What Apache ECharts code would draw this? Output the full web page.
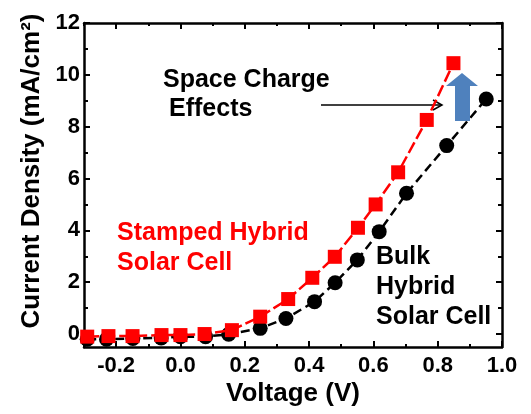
<!DOCTYPE html>
<html>
<head>
<meta charset="utf-8">
<script src="https://cdn.jsdelivr.net/npm/echarts@6/dist/echarts.min.js"></script>
<style>html,body{margin:0;padding:0;background:#fff}#c{width:531px;height:414px}</style>
</head>
<body>
<div id="c"></div>
<script>
// Data
var voltageStamped = [-0.29, -0.224, -0.149, -0.059, 0.0, 0.075, 0.16, 0.248, 0.335, 0.41, 0.48, 0.552, 0.607, 0.677, 0.766, 0.849];
var currentStamped = [-0.1, -0.08, -0.08, -0.04, -0.04, 0.0, 0.15, 0.67, 1.35, 2.17, 2.98, 4.1, 5.0, 6.24, 8.26, 10.45];
var voltageBulk = [-0.29, -0.23, -0.148, -0.06, 0.0, 0.078, 0.15, 0.248, 0.328, 0.417, 0.481, 0.55, 0.618, 0.703, 0.828, 0.951];
var currentBulk = [-0.2, -0.2, -0.17, -0.15, -0.1, -0.1, -0.01, 0.22, 0.6, 1.25, 1.98, 2.86, 3.95, 5.43, 7.27, 9.07];
var xTickLabels = [-0.2, 0.0, 0.2, 0.4, 0.6, 0.8, 1.0];
var xMinorTicks = [-0.3, -0.1, 0.1, 0.3, 0.5, 0.7, 0.9];
var yTickLabels = [0, 2, 4, 6, 8, 10, 12];
var yMinorTicks = [1, 3, 5, 7, 9, 11];

function zip(a, b) { return a.map(function (v, i) { return [v, b[i]]; }); }

var FONT = 'Liberation Sans';
var chart = echarts.init(document.getElementById('c'), null, { renderer: 'canvas' });

function xAx(pos, ticks, len, showLine, showLabel) {
  return {
    type: 'value', position: pos, min: -0.3, max: 1.0,
    axisLine: { show: showLine, onZero: false, lineStyle: { color: '#000', width: 2.5 } },
    axisTick: { show: true, inside: true, length: len, customValues: ticks, lineStyle: { color: '#000', width: 2 } },
    axisLabel: showLabel ? {
      show: true, customValues: xTickLabels, margin: 8,
      formatter: function (v) { return v.toFixed(1); },
      fontFamily: FONT, fontWeight: 'bold', fontSize: 22, color: '#000'
    } : { show: false },
    splitLine: { show: false }
  };
}
function yAx(pos, ticks, len, showLine, showLabel) {
  return {
    type: 'value', position: pos, min: -0.5, max: 12,
    axisLine: { show: showLine, onZero: false, lineStyle: { color: '#000', width: 2.5 } },
    axisTick: { show: true, inside: true, length: len, customValues: ticks, lineStyle: { color: '#000', width: 2 } },
    axisLabel: showLabel ? {
      show: true, customValues: yTickLabels, margin: 4,
      fontFamily: FONT, fontWeight: 'bold', fontSize: 22, color: '#000'
    } : { show: false },
    splitLine: { show: false }
  };
}

function txt(s, x, y, size, color) {
  return { type: 'text', x: x, y: y,
    style: { text: s, font: 'bold ' + size + 'px "Liberation Sans"', fill: color, align: 'left', verticalAlign: 'middle' } };
}

chart.setOption({
  animation: false,
  backgroundColor: '#fff',
  grid: { left: 84, right: 29, top: 23, bottom: 67, containLabel: false },
  xAxis: [
    xAx('bottom', xTickLabels, 6, true, true),
    xAx('bottom', xMinorTicks, 3, false, false),
    xAx('top', xTickLabels, 6, true, false),
    xAx('top', xMinorTicks, 3, false, false)
  ],
  yAxis: [
    yAx('left', yTickLabels, 6, true, true),
    yAx('left', yMinorTicks, 4, false, false),
    yAx('right', yTickLabels, 6, true, false),
    yAx('right', yMinorTicks, 4, false, false)
  ],
  series: [
    {
      name: 'Bulk Hybrid Solar Cell', type: 'line', xAxisIndex: 0, yAxisIndex: 0,
      data: zip(voltageBulk, currentBulk),
      symbol: 'circle', symbolSize: 15,
      itemStyle: { color: '#000' },
      lineStyle: { color: '#000', width: 2.5, type: [9, 5] },
      z: 2
    },
    {
      name: 'Stamped Hybrid Solar Cell', type: 'line', xAxisIndex: 0, yAxisIndex: 0,
      data: zip(voltageStamped, currentStamped),
      symbol: 'rect', symbolSize: 14,
      itemStyle: { color: '#ff0000' },
      lineStyle: { color: '#ff0000', width: 2.5, type: [12, 4] },
      z: 3
    }
  ],
  graphic: [
    { type: 'text', x: 32, y: 171, rotation: Math.PI / 2,
      style: { text: 'Current Density (mA/cm²)', font: 'bold 26px "Liberation Sans"', fill: '#000', align: 'center', verticalAlign: 'middle' } },
    { type: 'text', x: 293, y: 394,
      style: { text: 'Voltage (V)', font: 'bold 26px "Liberation Sans"', fill: '#000', align: 'center', verticalAlign: 'middle' } },
    txt('Space Charge', 163, 80, 25, '#000'),
    txt('Effects', 169, 109, 25, '#000'),
    txt('Stamped Hybrid', 117, 233, 25, '#ff0000'),
    txt('Solar Cell', 117, 263, 25, '#ff0000'),
    txt('Bulk', 376, 257, 25, '#000'),
    txt('Hybrid', 376, 287, 25, '#000'),
    txt('Solar Cell', 376, 317, 25, '#000'),
    // thin black arrow
    { type: 'line', shape: { x1: 321, y1: 105, x2: 442, y2: 105 }, style: { stroke: '#000', lineWidth: 1.5 } },
    { type: 'polyline', shape: { points: [[433, 100], [442, 105], [433, 110]] }, style: { stroke: '#000', lineWidth: 1.5, fill: null } },
    // blue block arrow
    { type: 'polygon', shape: { points: [[455, 121], [455, 86], [446, 86], [462, 73], [478, 86], [470, 86], [470, 121]] },
      style: { fill: '#4f81bd', stroke: null }, z: 10 }
  ]
});
</script>
</body>
</html>
